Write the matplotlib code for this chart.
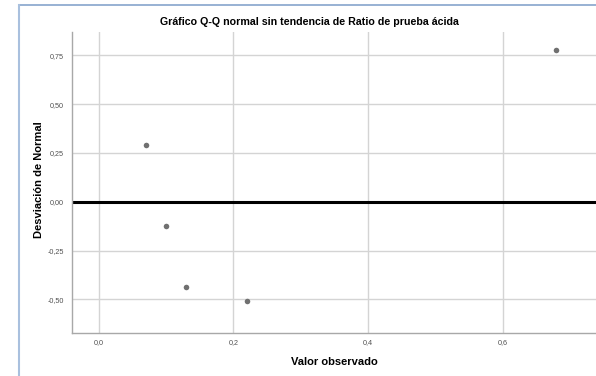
import matplotlib
matplotlib.use("Agg")
import matplotlib.pyplot as plt
from matplotlib.lines import Line2D
from matplotlib.ticker import FuncFormatter

plt.rcParams['font.family'] = ['Liberation Sans', 'DejaVu Sans']

# data
valor_observado = [0.07, 0.10, 0.13, 0.22, 0.68]
desviacion = [0.29, -0.125, -0.435, -0.51, 0.775]
x_ticks = [0.0, 0.2, 0.4, 0.6]
y_ticks = [-0.50, -0.25, 0.00, 0.25, 0.50, 0.75]

fig = plt.figure(figsize=(5.96, 3.76), dpi=100)
ax = fig.add_axes([72/596, 43/376, 524/596, 301/376])

ax.set_xlim(-0.04, 0.739)
ax.set_ylim(-0.672, 0.869)

ax.grid(True, color='#d4d4d4', linewidth=1.0)
ax.set_axisbelow(True)
ax.axhline(0, color='black', linewidth=2.2, zorder=2)
ax.scatter(valor_observado, desviacion, s=16, color='#707070', zorder=3, linewidths=0)

ax.set_xticks(x_ticks)
ax.set_yticks(y_ticks)
ax.xaxis.set_major_formatter(FuncFormatter(lambda v, p: f"{v:.1f}".replace('.', ',')))
ax.yaxis.set_major_formatter(FuncFormatter(lambda v, p: f"{v:.2f}".replace('.', ',')))
ax.tick_params(length=0, labelsize=5.2, labelcolor='#505050')
ax.tick_params(axis='y', pad=6)
ax.tick_params(axis='x', pad=4.5)

for s in ['top', 'right']:
    ax.spines[s].set_visible(False)
for s in ['left', 'bottom']:
    ax.spines[s].set_color('#a8a8a8')
    ax.spines[s].set_linewidth(1.0)

ax.set_xlabel('Valor observado', fontsize=8, fontweight='bold', va='center')
ax.xaxis.set_label_coords(0.5, -29/301)
ax.set_ylabel('Desviación de Normal', fontsize=8, fontweight='bold', va='center')
ax.yaxis.set_label_coords(-33/524, 0.51)
fig.text(309/596, 1 - 22/376, 'Gráfico Q-Q normal sin tendencia de Ratio de prueba ácida',
         ha='center', va='center', fontsize=7.7, fontweight='bold')

# frame border of the output window
fig.add_artist(Line2D([19/596, 1], [1 - 5/376, 1 - 5/376], color='#86a4cc', linewidth=1.2))
fig.add_artist(Line2D([19/596, 19/596], [0, 1 - 5/376], color='#a9c0de', linewidth=1.5))

fig.savefig('out.png', dpi=100)
